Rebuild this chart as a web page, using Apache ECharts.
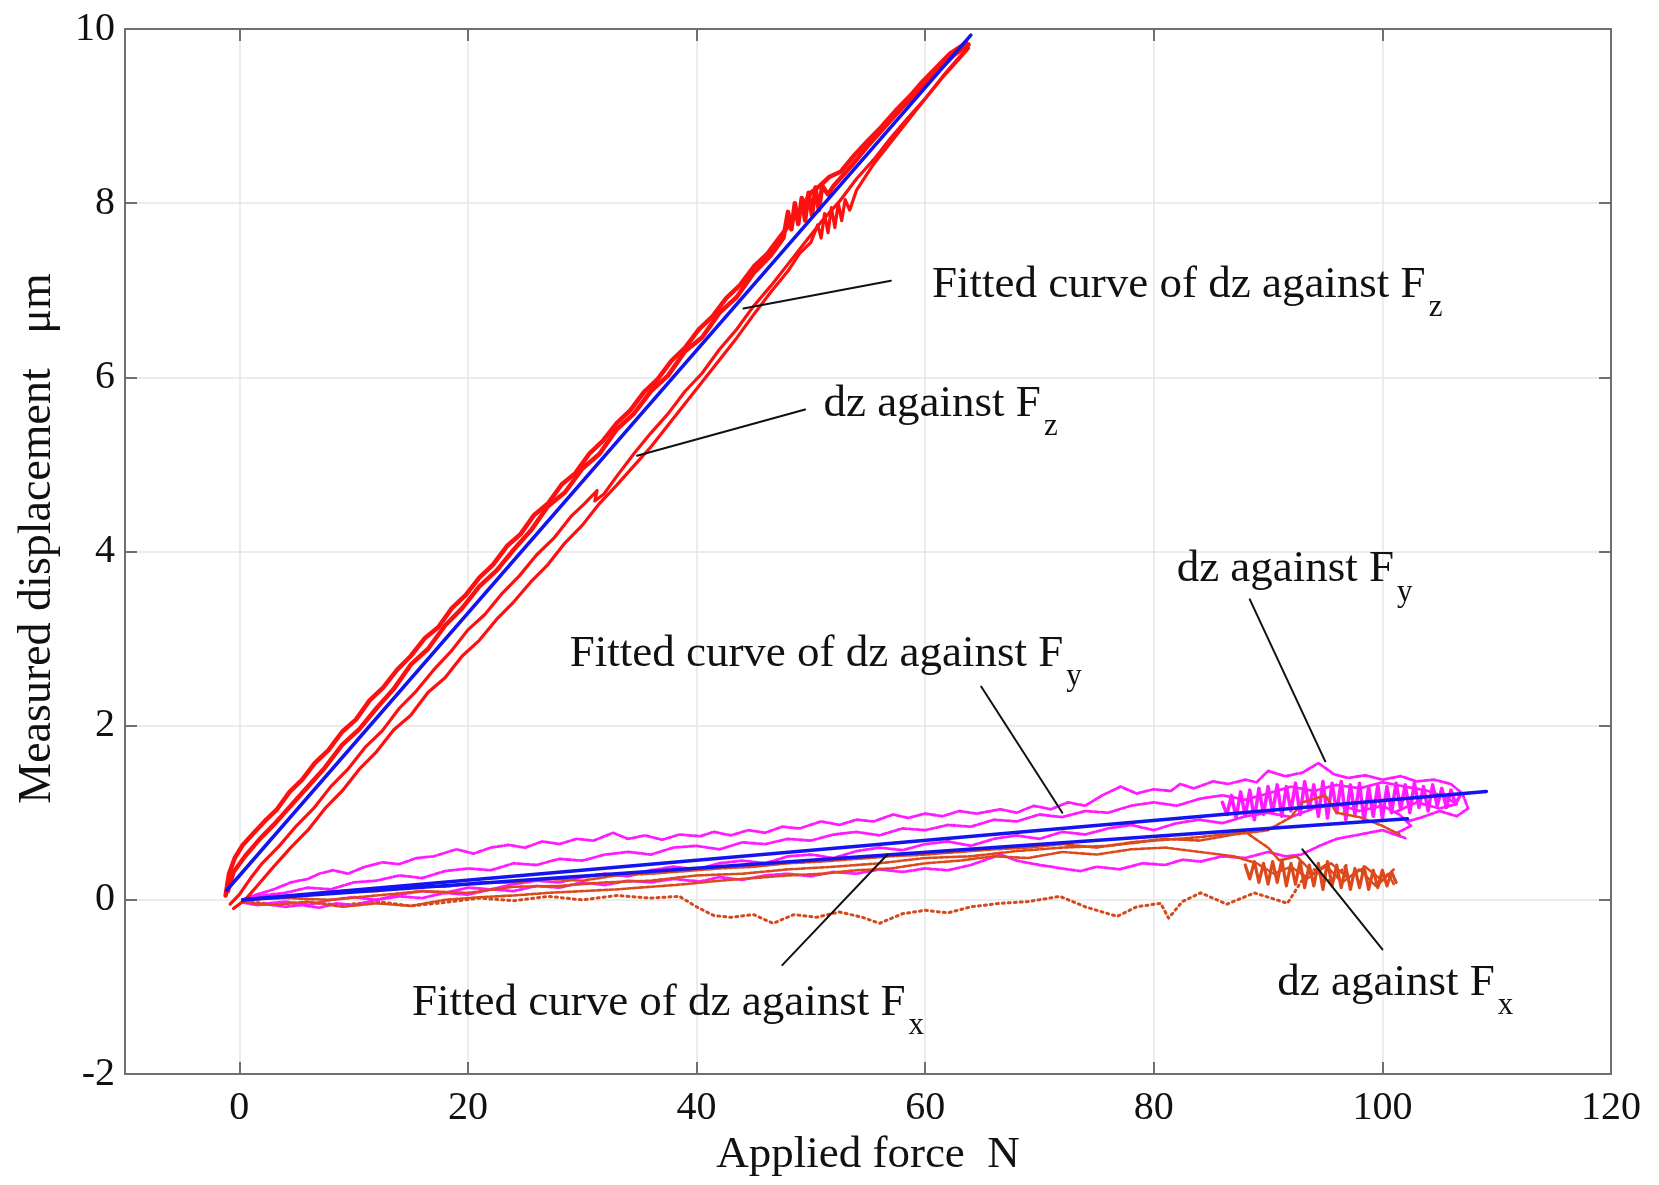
<!DOCTYPE html>
<html>
<head>
<meta charset="utf-8">
<script src="https://cdn.jsdelivr.net/npm/echarts@6/dist/echarts.min.js"></script>
<style>
  html, body { margin: 0; padding: 0; background: #ffffff; }
  #chart { width: 1659px; height: 1185px; }
</style>
</head>
<body>
<div id="chart"></div>
<script>
// Axis ticks
const xTickValues = [0, 20, 40, 60, 80, 100, 120];
const yTickValues = [-2, 0, 2, 4, 6, 8, 10];

// dz against Fz : applied force (N), measured displacement (um)
const fzTraceA = [[-1.2,0.05],[-0.9,0.3],[-0.4,0.48],[0.3,0.63],[1.2,0.76],[2.2,0.9],[3.3,1.04],[4.4,1.24],[5.5,1.38],[6.6,1.57],[7.8,1.72],[9.0,1.93],[10.2,2.07],[11.4,2.29],[12.6,2.44],[13.8,2.64],[15.0,2.8],[16.2,3.0],[17.4,3.13],[18.6,3.35],[19.8,3.5],[21.0,3.7],[22.2,3.85],[23.4,4.06],[24.6,4.2],[25.8,4.42],[27.0,4.55],[28.2,4.77],[29.4,4.9],[30.6,5.12],[31.8,5.27],[33.0,5.47],[34.2,5.62],[35.4,5.83],[36.6,5.98],[37.8,6.19],[39.0,6.34],[40.2,6.55],[41.4,6.7],[42.6,6.91],[43.8,7.06],[45.0,7.27],[46.2,7.42],[47.4,7.63],[48.4,7.8],[49.2,7.95],[50.0,8.12],[50.8,8.2],[51.6,8.3],[52.6,8.36],[53.8,8.55],[55.0,8.72],[56.2,8.88],[57.4,9.06],[58.6,9.22],[59.8,9.4],[61.0,9.56],[62.2,9.72],[63.6,9.84]];
const fzTraceB = [[-1.0,0.1],[-0.5,0.32],[0.5,0.5],[1.8,0.7],[3.0,0.86],[4.5,1.08],[6.0,1.3],[7.5,1.52],[9.0,1.78],[10.5,1.96],[12.0,2.2],[13.5,2.42],[15.0,2.7],[16.5,2.88],[18.0,3.15],[19.5,3.35],[21.0,3.6],[22.5,3.78],[24.0,4.02],[25.5,4.24],[27.0,4.52],[28.5,4.68],[30.0,4.95],[31.5,5.12],[33.0,5.4],[34.5,5.58],[36.0,5.84],[37.5,6.02],[39.0,6.3],[40.5,6.46],[42.0,6.74],[43.5,6.92],[45.0,7.2],[46.5,7.4],[47.6,7.6],[48.0,7.9],[48.3,7.7],[48.6,8.0],[48.9,7.76],[49.2,8.06],[49.5,7.8],[49.8,8.12],[50.1,7.86],[50.4,8.18],[50.7,7.92],[51.0,8.2],[51.5,8.1],[52.0,8.2],[53.5,8.42],[55.0,8.66],[56.5,8.88],[58.0,9.1],[59.5,9.3],[61.0,9.5],[62.5,9.7],[63.8,9.82]];
const fzTraceC = [[-0.8,-0.05],[0.0,0.06],[1.0,0.25],[2.0,0.42],[3.5,0.62],[5.0,0.85],[6.5,1.05],[8.0,1.3],[9.5,1.5],[11.0,1.75],[12.5,1.94],[14.0,2.2],[15.5,2.4],[17.0,2.64],[18.5,2.85],[20.0,3.1],[21.5,3.28],[23.0,3.52],[24.5,3.72],[26.0,3.96],[27.5,4.15],[29.0,4.4],[30.2,4.55],[31.3,4.7],[31.1,4.58],[31.9,4.66],[33.0,4.86],[34.5,5.12],[36.0,5.36],[37.5,5.58],[39.0,5.84],[40.5,6.05],[42.0,6.32],[43.5,6.55],[45.0,6.82],[46.5,7.05],[48.0,7.3],[49.5,7.55],[51.0,7.8],[52.5,8.02],[54.0,8.28],[55.5,8.5],[57.0,8.75],[58.5,8.98],[60.0,9.2],[61.5,9.44],[63.0,9.66],[63.8,9.78]];
const fzTraceD = [[-0.5,-0.1],[0.5,0.0],[1.5,0.15],[3.0,0.38],[4.5,0.6],[6.0,0.8],[7.5,1.05],[9.0,1.25],[10.5,1.5],[12.0,1.7],[13.5,1.95],[15.0,2.12],[16.5,2.38],[18.0,2.55],[19.5,2.8],[21.0,2.98],[22.5,3.22],[24.0,3.42],[25.5,3.65],[27.0,3.85],[28.5,4.1],[30.0,4.3],[31.5,4.55],[33.0,4.76],[34.5,4.98],[36.0,5.2],[37.5,5.45],[39.0,5.7],[40.5,5.95],[42.0,6.2],[43.5,6.45],[45.0,6.72],[46.5,6.98],[48.0,7.22],[49.0,7.42],[50.0,7.55],[50.6,7.75],[50.9,7.6],[51.2,7.88],[51.5,7.66],[51.8,7.95],[52.1,7.72],[52.4,8.0],[52.7,7.8],[53.0,8.04],[53.4,7.92],[54.0,8.15],[55.5,8.45],[57.0,8.7],[58.5,8.95],[60.0,9.2],[61.5,9.45],[62.8,9.65],[63.7,9.78]];

// dz against Fy
const fyTraceA = [[0.3,0.0],[1.5,0.06],[3,0.12],[4.5,0.2],[6,0.24],[7,0.3],[8.2,0.34],[9.5,0.3],[11,0.38],[12.5,0.43],[14,0.41],[15.5,0.48],[17,0.5],[19,0.58],[20.5,0.53],[22,0.6],[23.5,0.63],[25,0.6],[26.5,0.67],[28,0.64],[29.5,0.7],[31,0.68],[32.7,0.77],[34,0.7],[35.5,0.74],[37,0.69],[38.5,0.75],[40.3,0.73],[41.5,0.78],[43,0.74],[44.5,0.8],[46,0.77],[47.5,0.84],[49,0.82],[50.9,0.9],[52.5,0.86],[54,0.92],[55.5,0.9],[57.2,0.98],[58.5,0.94],[60,0.99],[61.5,0.96],[63,1.02],[64.5,0.99],[66.6,1.04],[68,1.0],[69.5,1.08],[71,1.04],[72.5,1.12],[74,1.08],[75.5,1.2],[77.1,1.3],[78.5,1.22],[80,1.27],[81.5,1.25],[82.3,1.33],[83.5,1.28],[85.2,1.36],[86.5,1.33],[88,1.38],[89,1.35],[90,1.48],[91.5,1.42],[93,1.46],[94.4,1.57],[95.8,1.44],[97,1.4],[98.5,1.43],[100,1.38],[101.6,1.42],[103,1.36],[104.5,1.38],[106,1.33],[107,1.22],[107.5,1.05],[106.5,0.96],[105,1.02],[103.5,0.95],[102.2,0.9]];
const fyTraceB = [[0.3,0.0],[2,0.05],[4,0.08],[6,0.14],[8,0.12],[10,0.2],[12,0.22],[14,0.28],[16,0.25],[18,0.33],[20,0.36],[22,0.34],[24,0.42],[26,0.4],[28,0.47],[30,0.45],[32,0.52],[34,0.55],[36,0.52],[38,0.6],[40,0.62],[42,0.58],[44,0.66],[46,0.64],[48,0.7],[50,0.68],[52,0.75],[54,0.78],[56,0.74],[58,0.82],[60,0.8],[62,0.86],[64,0.84],[66,0.92],[68,0.9],[70,0.98],[72,0.95],[74,1.02],[76,1.0],[78,1.08],[80,1.12],[82,1.08],[84,1.16],[86,1.2],[88,1.15],[90,1.22],[92,1.3],[94,1.25],[96,1.32],[98,1.28],[100,1.35],[102,1.3],[104,1.25],[105.5,1.18],[106.5,1.1],[105,1.05],[103,1.12],[101,1.0]];
const fyTraceC = [[0.3,-0.02],[2,-0.05],[4,-0.02],[6,-0.06],[8,0.0],[10,0.03],[12,0.0],[14,0.06],[16,0.1],[18,0.08],[20,0.14],[22,0.12],[24,0.18],[26,0.22],[28,0.2],[30,0.26],[32,0.3],[34,0.27],[36,0.34],[38,0.38],[40,0.35],[42,0.42],[44,0.45],[46,0.42],[48,0.5],[50,0.52],[52,0.48],[54,0.56],[56,0.6],[58,0.57],[60,0.64],[62,0.67],[64,0.62],[66,0.7],[68,0.74],[70,0.7],[72,0.78],[74,0.75],[76,0.82],[78,0.86],[80,0.8],[82,0.88],[84,0.92],[86,0.88],[88,0.96],[90,1.0],[92,0.95],[94,1.05],[96,1.1],[98,1.02],[100,1.08],[101.5,0.98],[102.5,0.85],[101,0.75]];
const fyTraceD = [[0.3,-0.03],[1.5,-0.06],[2.4,-0.05],[4,-0.08],[5.5,-0.06],[7,-0.09],[8.5,-0.04],[10,-0.06],[12,0.0],[14,0.04],[16,0.02],[18,0.08],[20,0.06],[22,0.12],[24,0.1],[26,0.16],[28,0.14],[30,0.2],[32,0.17],[34,0.22],[36,0.2],[38,0.24],[40.3,0.21],[42,0.26],[44,0.23],[46,0.28],[48,0.3],[50,0.27],[52,0.32],[54,0.3],[56,0.35],[58,0.32],[60,0.36],[62,0.34],[64,0.4],[66.6,0.52],[68,0.45],[70,0.4],[72,0.36],[73.6,0.33],[75,0.38],[77,0.35],[79,0.42],[81,0.4],[82.5,0.46],[84.1,0.44],[86,0.5],[88,0.48],[90,0.55],[91.5,0.5],[92.9,0.52],[94.5,0.62],[96,0.7],[98,0.75],[100,0.8],[102,0.71]];
const fyTraceE = [[86,1.12],[86.4,0.98],[86.8,1.2],[87.2,0.94],[87.6,1.24],[88,0.96],[88.4,1.26],[88.8,0.92],[89.2,1.28],[89.6,0.98],[90,1.3],[90.4,1.0],[90.8,1.32],[91.2,0.96],[91.6,1.3],[92,1.02],[92.4,1.34],[92.8,0.98],[93.2,1.36],[93.6,1.04],[94,1.32],[94.4,0.96],[94.8,1.36],[95.2,0.94],[95.6,1.34],[96,1.0],[96.4,1.36],[96.8,0.92],[97.2,1.32],[97.6,0.98],[98,1.34],[98.4,0.9],[98.8,1.3],[99.2,0.96],[99.6,1.32],[100,0.94],[100.4,1.3],[100.8,1.0],[101.2,1.34],[101.6,1.04],[102,1.32],[102.4,1.0],[102.8,1.34],[103.2,1.06],[103.6,1.3],[104,1.02],[104.4,1.32],[104.8,1.08],[105.2,1.28],[105.6,1.06],[106,1.26],[106.4,1.1],[106.8,1.2]];

// dz against Fx
const fxTraceA = [[0.5,0],[3,0.02],[6,0.06],[9,0.1],[12,0.1],[15,0.16],[18,0.15],[21,0.2],[24,0.2],[27,0.24],[30,0.22],[33,0.28],[36,0.3],[39,0.33],[42,0.36],[45,0.38],[48,0.42],[51,0.44],[54,0.47],[57,0.5],[60,0.52],[63,0.55],[66,0.58],[69,0.6],[72,0.64],[75,0.6],[78,0.66],[81,0.7],[84,0.68],[87,0.75],[90,0.8],[92,0.95],[93,1.12],[95,1.2],[96,1.0],[98,0.95],[100,0.85],[101.5,0.75]];
const fxTraceB = [[0.5,-0.03],[3,-0.06],[6,-0.02],[9,-0.08],[12,-0.04],[15,-0.07],[18,0.0],[21,0.03],[24,0.05],[27,0.08],[30,0.1],[33,0.12],[36,0.15],[39,0.18],[42,0.22],[45,0.25],[48,0.28],[51,0.3],[54,0.34],[57,0.36],[60,0.42],[63,0.45],[66,0.5],[69,0.48],[72,0.55],[75,0.52],[78,0.58],[81,0.6],[84,0.55],[87,0.5],[89,0.42],[90.5,0.3],[92,0.38],[93.5,0.25],[95,0.4],[96.5,0.2],[98,0.35],[99.5,0.15],[100.5,0.3],[101,0.18]];
const fxTraceC = [[0.5,0],[4,0.02],[8,0.0],[12,0.05],[16,0.1],[20,0.08],[24,0.15],[28,0.16],[32,0.2],[36,0.22],[40,0.28],[44,0.3],[48,0.35],[52,0.38],[56,0.42],[60,0.48],[64,0.5],[68,0.56],[72,0.6],[76,0.62],[80,0.68],[84,0.72],[88,0.78],[90,0.6],[91,0.45],[92.5,0.5],[94,0.3],[95.5,0.42],[97,0.25],[98.5,0.38],[100,0.22],[101,0.35]];
const fxTraceD = [[0.5,-0.02],[3,-0.05],[6,-0.03],[9,-0.06],[12,-0.02],[15,-0.07],[18,-0.03],[21,0.02],[24,-0.01],[27,0.04],[30,0.0],[33,0.05],[36,0.02],[38.5,0.04],[40,-0.08],[41.5,-0.18],[43,-0.2],[45,-0.17],[46.7,-0.27],[48.5,-0.17],[50.5,-0.2],[52.5,-0.14],[54.5,-0.2],[56,-0.27],[58,-0.16],[60,-0.12],[62,-0.15],[64,-0.08],[66.6,-0.04],[69,-0.02],[71.8,0.04],[74,-0.08],[76.8,-0.19],[78.5,-0.08],[80.6,-0.04],[81.3,-0.21],[82.5,-0.02],[84.1,0.08],[86.4,-0.05],[88.8,0.08],[91.7,-0.04],[92.9,0.21],[94,0.35],[95.5,0.2],[97,0.42]];
const fxTraceE = [[88,0.4],[88.4,0.24],[88.8,0.44],[89.2,0.2],[89.6,0.42],[90,0.18],[90.4,0.44],[90.8,0.2],[91.2,0.46],[91.6,0.16],[92,0.42],[92.4,0.18],[92.8,0.44],[93.2,0.14],[93.6,0.4],[94,0.16],[94.4,0.42],[94.8,0.12],[95.2,0.44],[95.6,0.16],[96,0.4],[96.4,0.14],[96.8,0.38],[97.2,0.12],[97.6,0.36],[98,0.14],[98.4,0.38],[98.8,0.12],[99.2,0.34],[99.6,0.14],[100,0.34],[100.4,0.16],[100.8,0.32],[101.2,0.2]];

// Linear fits
const fitFz = [[-1.1,0.11],[64.0,9.93]];
const fitFy = [[0.3,0.0],[109.1,1.245]];
const fitFx = [[0.3,0.0],[102.2,0.93]];

// Callout texts (anchor = top-left of the text, in axis units) and their leader lines
const calloutMain = ['Fitted curve of dz against F', 'dz against F', 'dz against F', 'Fitted curve of dz against F', 'Fitted curve of dz against F', 'dz against F'];
const calloutSub = ['z', 'z', 'y', 'y', 'x', 'x'];
const calloutAt = [[60.6,7.32],[51.1,5.95],[82.0,4.05],[28.9,3.08],[15.1,-0.93],[90.8,-0.70]];
const leaderLines = [
  [[57.0,7.11],[44.1,6.79]],
  [[49.5,5.63],[34.8,5.10]],
  [[88.4,3.45],[95.0,1.59]],
  [[64.9,2.45],[72.0,1.00]],
  [[47.5,-0.75],[56.7,0.52]],
  [[100.0,-0.57],[93.0,0.58]]
];

const serif = "'Liberation Serif', 'Times New Roman', Times, serif";
const ink = '#111111';
const axisGray = '#6f6f6f';

function trace(data, color, width, type) {
  return {
    type: 'line', data: data, symbol: 'none', showSymbol: false,
    lineStyle: { color: color, width: width, type: type || 'solid', cap: 'round', join: 'round' },
    silent: true, animation: false, z: 2
  };
}

const series = [];
series.push(trace(fxTraceD, '#d24a1e', 3, [2, 4]));
[fyTraceD, fyTraceC, fyTraceB, fyTraceA].forEach(d => series.push(trace(d, '#ff1aff', 2.8, [5, 2])));
series.push(trace(fyTraceE, '#ff1aff', 3.5));
[fxTraceB, fxTraceC, fxTraceA].forEach(d => series.push(trace(d, '#dc4a1c', 2.6, [4, 2])));
series.push(trace(fxTraceE, '#dc4a1c', 3.2));
[fzTraceD, fzTraceC].forEach(d => series.push(trace(d, '#ff1010', 3.2)));
[fzTraceB, fzTraceA].forEach(d => series.push(trace(d, '#ff1010', 4.5)));
[fitFz, fitFy, fitFx].forEach(d => {
  const s = trace(d, '#1414f0', 3.5);
  s.z = 3;
  series.push(s);
});
leaderLines.forEach(d => {
  const s = trace(d, ink, 2);
  s.z = 4;
  series.push(s);
});
series.push({
  type: 'scatter', silent: true, animation: false, z: 5,
  symbolSize: 0, itemStyle: { color: ink, opacity: 1 },
  data: calloutAt,
  label: {
    show: true, position: [0, 0], align: 'left', verticalAlign: 'top',
    color: ink, opacity: 1, textBorderWidth: 0,
    formatter: p => '{m|' + calloutMain[p.dataIndex] + '}{s|' + calloutSub[p.dataIndex] + '}',
    rich: {
      m: { fontFamily: serif, fontSize: 45, color: ink, lineHeight: 50, verticalAlign: 'top', textBorderWidth: 0 },
      s: { fontFamily: serif, fontSize: 31, color: ink, padding: [30, 0, 0, 3], verticalAlign: 'top', textBorderWidth: 0 }
    }
  }
});

function xAxisCfg(pos, main) {
  return {
    type: 'value', min: -10, max: 120, interval: 10, position: pos,
    axisLine: { show: true, onZero: false, lineStyle: { color: axisGray, width: 2 } },
    axisTick: { show: true, inside: true, length: 12, customValues: xTickValues, lineStyle: { color: axisGray, width: 2 } },
    axisLabel: main ? { show: true, customValues: xTickValues, fontSize: 40, fontFamily: serif, color: ink, margin: 14 } : { show: false },
    splitLine: { show: main, lineStyle: { color: '#e6e6e6', width: 1.5 } },
    name: main ? 'Applied force  N' : '',
    nameLocation: 'middle', nameGap: 54,
    nameTextStyle: { fontSize: 45, fontFamily: serif, color: ink }
  };
}
function yAxisCfg(pos, main) {
  return {
    type: 'value', min: -2, max: 10, interval: 2, position: pos,
    axisLine: { show: true, onZero: false, lineStyle: { color: axisGray, width: 2 } },
    axisTick: { show: true, inside: true, length: 12, customValues: yTickValues, lineStyle: { color: axisGray, width: 2 } },
    axisLabel: main ? { show: true, customValues: yTickValues, fontSize: 40, fontFamily: serif, color: ink, margin: 10 } : { show: false },
    splitLine: { show: main, lineStyle: { color: '#e6e6e6', width: 1.5 } },
    name: main ? 'Measured displacement   \u03bcm' : '',
    nameLocation: 'middle', nameGap: 64, nameRotate: 90,
    nameTextStyle: { fontSize: 46, fontFamily: serif, color: ink, padding: [0, 0, 0, 26] }
  };
}

const chart = echarts.init(document.getElementById('chart'), null, { renderer: 'canvas' });
chart.setOption({
  backgroundColor: '#ffffff',
  animation: false,
  grid: { left: 125, top: 29, width: 1486, height: 1045, containLabel: false },
  xAxis: [xAxisCfg('bottom', true), xAxisCfg('top', false)],
  yAxis: [yAxisCfg('left', true), yAxisCfg('right', false)],
  series: series
});
</script>
</body>
</html>
